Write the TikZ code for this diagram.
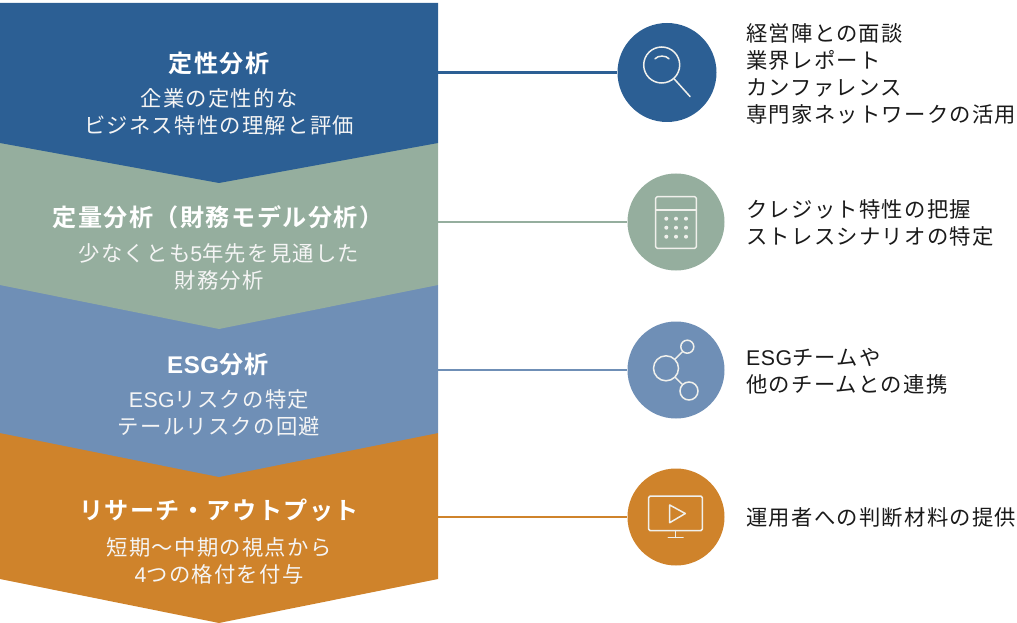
\documentclass[tikz,border=0pt]{standalone}
\usepackage{fontspec}
\setmainfont{Noto Sans CJK JP}
\newfontfamily\subfont[LetterSpace=6]{Noto Sans CJK JP}
\newfontfamily\headfont[LetterSpace=6,BoldFont={Noto Sans CJK JP Bold}]{Noto Sans CJK JP}
\newfontfamily\latinfont[LetterSpace=2]{Liberation Sans}
\definecolor{cblue}{HTML}{2C5F94}
\definecolor{cgreen}{HTML}{95AE9E}
\definecolor{csteel}{HTML}{6F8FB6}
\definecolor{corange}{HTML}{CF832B}
\definecolor{ink}{HTML}{1A1A1A}
\definecolor{iconw}{HTML}{F0F0EC}
\tikzset{
  headtext/.style={text=white,inner sep=0pt,font={\headfont\bfseries\fontsize{24.2}{27}\selectfont}},
  subtext/.style={text=white!96!black,inner sep=0pt,align=center,font={\subfont\fontsize{21.4}{27.2}\selectfont}},
  sidetext/.style={text=ink,inner sep=0pt,align=left,anchor=west,font={\subfont\fontsize{21.4}{27}\selectfont}},
  disc/.style={circle,draw=none,inner sep=0pt,minimum size=#1},
  link/.style={line width=2.4bp},
  glyphline/.style={draw=iconw,line width=1.5bp,line cap=round,line join=round},
  ringnode/.style={circle,draw=iconw,line width=1.5bp,inner sep=0pt,minimum size=#1},
  dotnode/.style={circle,fill=iconw,inner sep=0pt,minimum size=4bp}
}
\begin{document}
\begin{tikzpicture}[x=1bp,y=-1bp]
\useasboundingbox (0,0) rectangle (1017,623);
% chevrons, lowest first so that each tip lies over the next band
\fill[corange] (0,433) -- (438,433) -- (438,579) -- (219,623) -- (0,579) -- cycle;
\fill[csteel] (0,285) -- (438,285) -- (438,433) -- (219,477) -- (0,433) -- cycle;
\fill[cgreen] (0,143) -- (438,143) -- (438,285) -- (219,329) -- (0,285) -- cycle;
\fill[cblue] (0,3) -- (438,3) -- (438,143) -- (219,183) -- (0,143) -- cycle;
\coordinate (s1) at (438,72.5);
\coordinate (s2) at (438,222);
\coordinate (s3) at (438,370);
\coordinate (s4) at (438,517);
% discs
\node[disc=99bp,fill=cblue] (d1) at (667,72.5) {};
\node[disc=97bp,fill=cgreen] (d2) at (676,222) {};
\node[disc=97bp,fill=csteel] (d3) at (676,370) {};
\node[disc=97bp,fill=corange] (d4) at (676,517) {};
\draw[link,cblue] (s1) -- (d1);
\draw[link,cgreen] (s2) -- (d2);
\draw[link,csteel] (s3) -- (d3);
\draw[link,corange] (s4) -- (d4);
% left texts
\node[headtext] (h1) at (219,63) {定性分析};
\node[subtext] (t1) at (219,112) {企業の定性的な\\ビジネス特性の理解と評価};
\node[headtext] (h2) at (218,217.5) {定量分析（財務モデル分析）};
\node[subtext] (t2) at (219,267) {少なくとも{\latinfont 5}年先を見通した\\財務分析};
\node[headtext] (h3) at (218,364) {{\latinfont\bfseries ESG}分析};
\node[subtext] (t3) at (219,413) {{\latinfont ESG}リスクの特定\\テールリスクの回避};
\node[headtext] (h4) at (219,510.5) {リサーチ・アウトプット};
\node[subtext] (t4) at (219,560.5) {短期～中期の視点から\\{\latinfont 4}つの格付を付与};
% right texts
\node[sidetext] (r1) at (746,74) {経営陣との面談\\業界レポート\\カンファレンス\\専門家ネットワークの活用};
\node[sidetext] (r2) at (746,223) {クレジット特性の把握\\ストレスシナリオの特定};
\node[sidetext] (r3) at (746,371) {{\latinfont ESG}チームや\\他のチームとの連携};
\node[sidetext] (r4) at (746,517.5) {運用者への判断材料の提供};
% magnifier
\node[ringnode=36bp] (lens) at (661.7,65) {};
\coordinate (grip) at (690,96.5);
\draw[glyphline] (lens) -- (grip);
\draw[glyphline] (655,58.8) .. controls (658,55.2) and (666,55.2) .. (669,58.8);
% calculator
\draw[glyphline,rounded corners=1.5bp] (655.7,196.7) rectangle (696.3,248.3);
\draw[glyphline] (655.7,210) -- (696.3,210);
\foreach \cx in {666.3,676,686}
  \foreach \cy in {218.7,227.7,236.7}
    \node[dotnode] at (\cx,\cy) {};
% share
\node[ringnode=25bp] (big) at (666,368.3) {};
\node[ringnode=13bp] (top) at (687.3,346.7) {};
\node[ringnode=18bp] (low) at (689,391) {};
\draw[glyphline] (big) -- (top);
\draw[glyphline] (big) -- (low);
% monitor
\draw[glyphline,rounded corners=1.5bp] (648.7,496) rectangle (702.3,530.7);
\draw[glyphline] (669.7,505) -- (685.3,513.5) -- (669.7,522.7) -- cycle;
\draw[glyphline] (675.7,530.7) -- (675.7,537.3);
\draw[glyphline] (668.3,537.3) -- (683,537.3);
\end{tikzpicture}
\end{document}
